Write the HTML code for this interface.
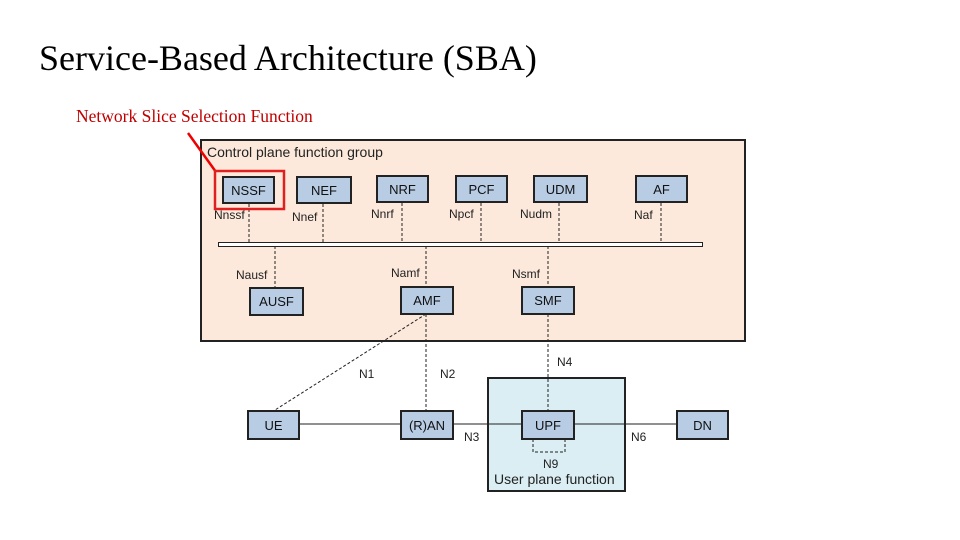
<!DOCTYPE html>
<html><head><style>
body{margin:0;width:960px;height:540px;background:#fff;overflow:hidden;position:relative;font-family:"Liberation Sans",sans-serif}
.t{position:absolute;font-family:"Liberation Serif",serif;white-space:nowrap}
.b{position:absolute;background:#b8cce4;border:2px solid #222;box-sizing:border-box;font-size:13px;display:flex;align-items:center;justify-content:center;color:#111}
.l{position:absolute;font-size:12px;color:#222;white-space:nowrap}
</style></head><body>
<div class="t" style="left:39px;top:37px;font-size:36px">Service-Based Architecture (SBA)</div>
<div class="t" style="left:76px;top:106px;font-size:17.5px;color:#c00000">Network Slice Selection Function</div>
<div style="position:absolute;left:200px;top:139px;width:546px;height:203px;background:#fce9db;border:2px solid #222;box-sizing:border-box"></div>
<div style="position:absolute;left:487px;top:377px;width:139px;height:115px;background:#dbeef4;border:2px solid #222;box-sizing:border-box"></div>
<svg style="position:absolute;left:0;top:0" width="960" height="540">
<g stroke="#222" stroke-width="1" stroke-dasharray="3,2" fill="none">
<line x1="249" y1="204" x2="249" y2="243"/><line x1="323" y1="204" x2="323" y2="243"/>
<line x1="402" y1="203" x2="402" y2="243"/><line x1="481" y1="203" x2="481" y2="243"/>
<line x1="559" y1="203" x2="559" y2="243"/><line x1="661" y1="203" x2="661" y2="243"/>
<line x1="275" y1="246" x2="275" y2="287"/><line x1="426" y1="246" x2="426" y2="286"/>
<line x1="548" y1="246" x2="548" y2="286"/>
<line x1="426" y1="314" x2="426" y2="410"/><line x1="548" y1="314" x2="548" y2="410"/>
<line x1="426" y1="314" x2="275" y2="410"/>
<polyline points="533,439 533,452 565,452 565,439"/>
</g>
<g stroke="#222" stroke-width="1">
<line x1="299" y1="424" x2="400" y2="424"/><line x1="453" y1="424" x2="521" y2="424"/><line x1="574" y1="424" x2="676" y2="424"/>
</g>
<rect x="218.5" y="242.5" width="484" height="4" fill="#fff" stroke="#222"/>
<line x1="188" y1="133" x2="216" y2="172" stroke="#e00" stroke-width="2.5"/>
<rect x="215" y="171" width="69" height="38" fill="none" stroke="#e02020" stroke-width="2.5"/>
</svg>
<div class="l" style="left:207px;top:144px;font-size:14px">Control plane function group</div>
<div class="b" style="left:222px;top:176px;width:53px;height:28px">NSSF</div>
<div class="b" style="left:296px;top:176px;width:56px;height:28px">NEF</div>
<div class="b" style="left:376px;top:175px;width:53px;height:28px">NRF</div>
<div class="b" style="left:455px;top:175px;width:53px;height:28px">PCF</div>
<div class="b" style="left:533px;top:175px;width:55px;height:28px">UDM</div>
<div class="b" style="left:635px;top:175px;width:53px;height:28px">AF</div>
<div class="b" style="left:249px;top:287px;width:55px;height:29px">AUSF</div>
<div class="b" style="left:400px;top:286px;width:54px;height:29px">AMF</div>
<div class="b" style="left:521px;top:286px;width:54px;height:29px">SMF</div>
<div class="b" style="left:247px;top:410px;width:53px;height:30px">UE</div>
<div class="b" style="left:400px;top:410px;width:54px;height:30px">(R)AN</div>
<div class="b" style="left:521px;top:410px;width:54px;height:30px">UPF</div>
<div class="b" style="left:676px;top:410px;width:53px;height:30px">DN</div>
<div class="l" style="left:214px;top:208px">Nnssf</div>
<div class="l" style="left:292px;top:210px">Nnef</div>
<div class="l" style="left:371px;top:207px">Nnrf</div>
<div class="l" style="left:449px;top:207px">Npcf</div>
<div class="l" style="left:520px;top:207px">Nudm</div>
<div class="l" style="left:634px;top:208px">Naf</div>
<div class="l" style="left:236px;top:268px">Nausf</div>
<div class="l" style="left:391px;top:266px">Namf</div>
<div class="l" style="left:512px;top:267px">Nsmf</div>
<div class="l" style="left:359px;top:367px">N1</div>
<div class="l" style="left:440px;top:367px">N2</div>
<div class="l" style="left:557px;top:355px">N4</div>
<div class="l" style="left:464px;top:430px">N3</div>
<div class="l" style="left:631px;top:430px">N6</div>
<div class="l" style="left:543px;top:457px">N9</div>
<div class="l" style="left:494px;top:471px;font-size:14px">User plane function</div>
</body></html>
